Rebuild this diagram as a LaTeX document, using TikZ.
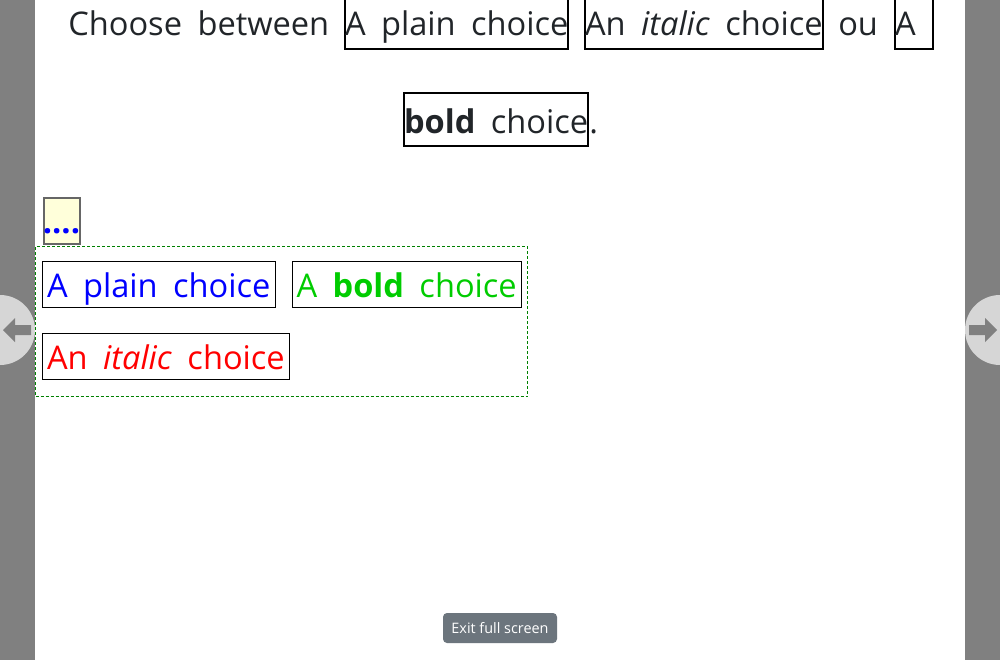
\documentclass[tikz,border=0pt]{standalone}
\usepackage{fontspec}
\setmainfont{Open Sans}
\definecolor{bodytxt}{HTML}{212529}
\definecolor{barg}{HTML}{808080}
\definecolor{circg}{HTML}{D6D6D6}
\definecolor{btng}{HTML}{6C757D}
\definecolor{choiceblue}{HTML}{0000FF}
\definecolor{choicegreen}{HTML}{00CC00}
\definecolor{choicered}{HTML}{FF0000}
\definecolor{dotsfill}{HTML}{FFFFDA}
\definecolor{dotsborder}{HTML}{666666}
\definecolor{dashgreen}{HTML}{008000}
\newcommand\bigfont{\fontsize{24.45pt}{28pt}\selectfont\spaceskip=11.6pt\relax}
\tikzset{
  toptext/.style={inner sep=0pt, anchor=base west, font=\bigfont, text=bodytxt},
  topbox/.style={draw=black, line width=1.5pt, inner xsep=0pt, inner ysep=0pt,
    text height=30pt, text depth=10.1pt, anchor=base west, font=\bigfont, text=bodytxt},
  lowbox/.style={draw=black, line width=0.75pt, inner xsep=3.4pt, inner ysep=0pt,
    text height=27.2pt, text depth=7.5pt, anchor=base west, font=\bigfont},
  dotsbox/.style={draw=dotsborder, fill=dotsfill, line width=1.5pt, inner sep=0pt,
    text height=26.25pt, text depth=8.25pt, anchor=base west,
    font=\bigfont\bfseries, text=choiceblue},
  container/.style={draw=dashgreen, line width=0.75pt, dash pattern=on 2.25pt off 1.5pt,
    inner sep=0pt, minimum width=368.8pt, minimum height=112.95pt, anchor=north west},
  exitbtn/.style={fill=btng, rounded corners=3pt, minimum width=85.5pt, minimum height=22.5pt,
    inner sep=0pt, text=white, font=\fontsize{10.8pt}{12pt}\selectfont},
  navicon/.style={fill=barg}
}
\begin{document}
\begin{tikzpicture}[x=0.75pt,y=-0.75pt]
\useasboundingbox (0,0) rectangle (1000,660);
\clip (0,0) rectangle (1000,660);
\fill[white] (0,0) rectangle (1000,660);
% side bars
\fill[barg] (0,0) rectangle (35,660);
\fill[barg] (965,0) rectangle (1000,660);
\fill[circg] (0,330) circle[radius=35];
\fill[circg] (1000,330) circle[radius=35];
\fill[navicon] (3,330) -- (15,318) -- (15,325) -- (31,325) -- (31,335) -- (15,335) -- (15,342) -- cycle;
\fill[navicon] (997,330) -- (985,318) -- (985,325) -- (969,325) -- (969,335) -- (985,335) -- (985,342) -- cycle;
% top sentence
\node[toptext] (t1) at (68,36) {Choose between};
\node[topbox] (b1) at (344,36) {A plain choice};
\node[topbox] (b2) at (584,36) {An \textit{italic} choice};
\node[toptext] (t2) at (838,36) {ou};
\node[topbox] (b3) at (894,36) {\makebox[28.5pt][l]{A}};
\node[topbox] (b4) at (403,133) {\textbf{bold} choice};
\node[toptext] (t3) at (b4.base east) {.};
% dots box
\node[dotsbox] (dots) at (42.5,233.3) {\makebox[27pt]{....}};
% container
\node[container] (cont) at (35,245.7) {};
\node[lowbox, text=choiceblue] (c1) at (42,297.3) {A plain choice};
\node[lowbox, text=choicegreen] (c2) at (291.5,297.3) {A \textbf{bold} choice};
\node[lowbox, text=choicered] (c3) at (42,369.3) {An \textit{italic} choice};
% exit button
\node[exitbtn] (exit) at (500,628) {Exit full screen};
\end{tikzpicture}
\end{document}
